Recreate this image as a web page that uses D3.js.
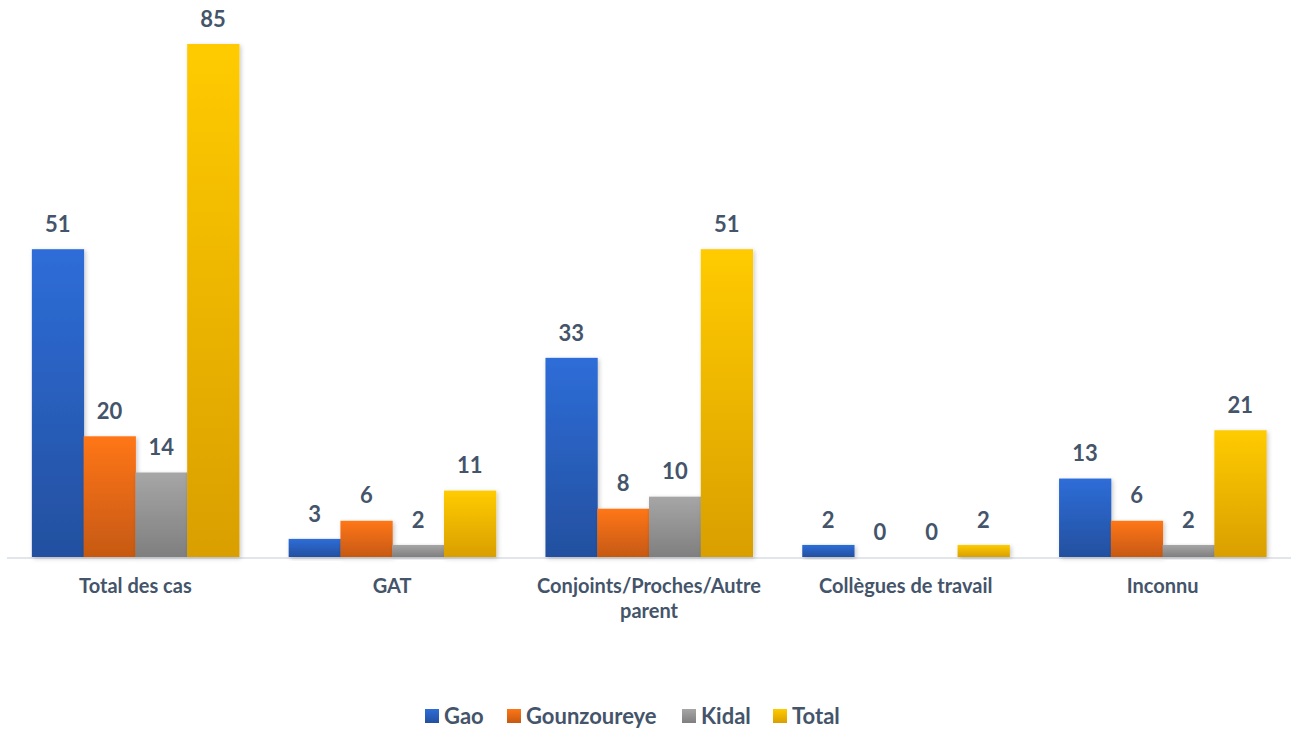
<!DOCTYPE html>
<html><head><meta charset="utf-8">
<script src="https://cdn.jsdelivr.net/npm/d3@7"></script>
<style>body{margin:0;background:#fff}svg{display:block}</style>
</head><body>
<script>
const categories = [["Total des cas"],["GAT"],["Conjoints/Proches/Autre","parent"],["Collègues de travail"],["Inconnu"]];
const seriesNames = ["Gao","Gounzoureye","Kidal","Total"];
const gao = [51,3,33,2,13];
const gounzoureye = [20,6,8,0,6];
const kidal = [14,2,10,0,2];
const total = [85,11,51,2,21];
const seriesValues = [gao,gounzoureye,kidal,total];
const gradTop = ["#2e6dd8","#ff7617","#a6a6a6","#ffcb00"];
const gradBot = ["#23509f","#c65911","#7f7f7f","#d99f00"];

const W=1296,H=731;
const FONT="Lato, 'Open Sans', sans-serif";
const svg=d3.select("body").append("svg").attr("width",W).attr("height",H);
const defs=svg.append("defs");
seriesNames.forEach((s,i)=>{
  const lg=defs.append("linearGradient").attr("id","g"+i).attr("x1",0).attr("y1",0).attr("x2",0).attr("y2",1);
  lg.append("stop").attr("offset","0%").attr("stop-color",gradTop[i]);
  lg.append("stop").attr("offset","100%").attr("stop-color",gradBot[i]);
});
const f=defs.append("filter").attr("id","sh").attr("x","-10%").attr("y","-10%").attr("width","130%").attr("height","130%");
f.append("feDropShadow").attr("dx",1.5).attr("dy",1.5).attr("stdDeviation",2).attr("flood-color","#000").attr("flood-opacity",0.22);

const x0=d3.scaleBand().domain(d3.range(categories.length)).range([7,1291]).paddingInner(0).paddingOuter(0);
const x1=d3.scaleBand().domain(d3.range(seriesNames.length)).range([0,x0.bandwidth()]).paddingInner(0).paddingOuter(0.48);
const y=d3.scaleLinear().domain([0,85]).range([557,44]);

svg.append("line").attr("x1",7).attr("x2",1291).attr("y1",558).attr("y2",558).attr("stroke","#d9dde3").attr("stroke-width",1.5);

const groups=svg.selectAll("g.cat").data(categories).join("g").attr("class","cat").attr("transform",(d,i)=>`translate(${x0(i)},0)`);
groups.each(function(c,ci){
  const g=d3.select(this);
  seriesValues.forEach((vals,si)=>{
    const v=vals[ci];
    if(v>0){
      g.append("rect").attr("x",x1(si)).attr("width",x1.bandwidth()+0.5).attr("y",y(v)).attr("height",y(0)-y(v))
        .attr("fill",`url(#g${si})`).attr("filter","url(#sh)");
    }
    g.append("text").attr("x",x1(si)+x1.bandwidth()/2).attr("y",y(v)-25).attr("dy","0.35em")
      .attr("text-anchor","middle").attr("font-family",FONT).attr("font-weight","bold")
      .attr("font-size",22).attr("fill","#44546a").text(v);
  });
  const t=g.append("text").attr("text-anchor","middle")
    .attr("font-family",FONT).attr("font-weight","bold").attr("font-size",20).attr("fill","#44546a");
  c.forEach((line,li)=>t.append("tspan").attr("x",x0.bandwidth()/2).attr("y",586+li*25).attr("dy","0.35em").text(line));
});

const legX=[425,507,682,773];
const leg=svg.append("g");
seriesNames.forEach((s,i)=>{
  leg.append("rect").attr("x",legX[i]).attr("y",709).attr("width",14).attr("height",14).attr("fill",`url(#g${i})`);
  leg.append("text").attr("x",legX[i]+19).attr("y",716).attr("dy","0.35em").attr("font-family",FONT)
    .attr("font-weight","bold").attr("font-size",22).attr("fill","#44546a").text(s);
});
</script>
</body></html>
